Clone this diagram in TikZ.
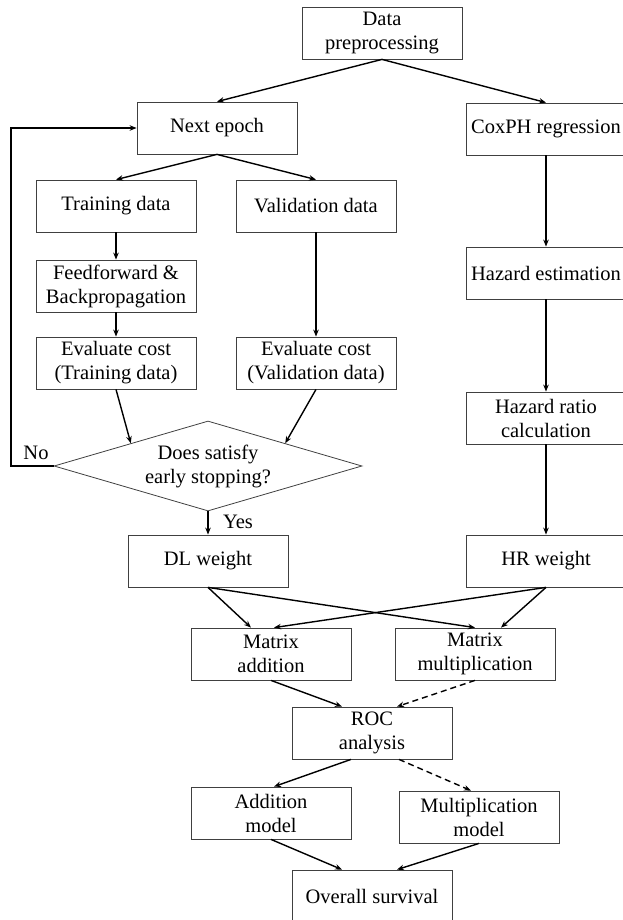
\documentclass[tikz,border=0pt]{standalone}
\usepackage{fontspec}
\setmainfont{Liberation Serif}
\usetikzlibrary{shapes.geometric,arrows.meta}

\begin{document}
\begin{tikzpicture}[
    x=1pt, y=-1pt,
    font=\fontsize{20.5}{24}\selectfont,
    box/.style={rectangle, draw=black!75, line width=0.8pt, minimum width=160pt, minimum height=52pt, align=center, inner sep=2pt},
    decision/.style={diamond, draw=black!75, line width=0.8pt, aspect=3.4, minimum width=308pt, minimum height=90pt, align=center, inner sep=0pt},
    arrow/.style={line width=1.4pt, -{Stealth[length=7pt,width=5.5pt]}},
    dasharrow/.style={arrow, dash pattern=on 6pt off 4pt}
]
    \useasboundingbox (0,0) rectangle (623,920);

    % Top and the two branches
    \node [box] (prep) at (382,33) {Data\\preprocessing};
    \node [box] (epoch) at (217,128) {Next epoch};
    \node [box] (cox) at (546,129) {CoxPH regression};

    % Deep learning branch
    \node [box] (train) at (116,206) {Training data};
    \node [box] (valid) at (316,206) {Validation data};
    \node [box] (feed) at (116,286) {Feedforward \&\\Backpropagation};
    \node [box] (costT) at (116,363) {Evaluate cost\\(Training data)};
    \node [box] (costV) at (316,363) {Evaluate cost\\(Validation data)};
    \node [decision] (stop) at (208,466) {Does satisfy\\early stopping?};
    \node [box] (dl) at (208,561) {DL weight};

    % Hazard ratio branch
    \node [box] (haz) at (546,273) {Hazard estimation};
    \node [box] (ratio) at (546,418) {Hazard ratio\\calculation};
    \node [box] (hr) at (546,561) {HR weight};

    % Combination and evaluation
    \node [box] (madd) at (271,654) {Matrix\\addition};
    \node [box] (mmul) at (475,654) {Matrix\\multiplication};
    \node [box] (roc) at (372,733) {ROC\\analysis};
    \node [box] (addm) at (271,813) {Addition\\model};
    \node [box] (mulm) at (479,817) {Multiplication\\model};
    \node [box] (os) at (372,896) {Overall survival};

    % Labels on the decision
    \node (no) at (36,453) {No};
    \node (yes) at (238,522) {Yes};
    \coordinate (loop) at (11,466);

    % Arrows
    \draw [arrow] (prep.south) -- (epoch.north);
    \draw [arrow] (prep.south) -- (cox.north);
    \draw [arrow] (epoch.south) -- (train.north);
    \draw [arrow] (epoch.south) -- (valid.north);
    \draw [arrow] (train) -- (feed);
    \draw [arrow] (feed) -- (costT);
    \draw [arrow] (valid) -- (costV);
    \draw [arrow] (costT.south) -- (stop.north west);
    \draw [arrow] (costV.south) -- (stop.north east);
    \draw [arrow] (stop.west) -- (loop) |- (epoch.west);
    \draw [arrow] (stop) -- (dl);
    \draw [arrow] (cox) -- (haz);
    \draw [arrow] (haz) -- (ratio);
    \draw [arrow] (ratio) -- (hr);

    % Weights to the two matrix operations
    \draw [arrow] (dl.south) -- ([xshift=-20pt]madd.north);
    \draw [arrow] (dl.south) -- (mmul.north);
    \draw [arrow] (hr.south) -- ([xshift=3pt]madd.north);
    \draw [arrow] (hr.south) -- ([xshift=26pt]mmul.north);

    \draw [arrow] (madd.south) -- ([xshift=-30pt]roc.north);
    \draw [dasharrow] (mmul.south) -- ([xshift=25pt]roc.north);
    \draw [arrow] ([xshift=-21pt]roc.south) -- ([xshift=3pt]addm.north);
    \draw [dasharrow] ([xshift=27pt]roc.south) -- ([xshift=-8pt]mulm.north);
    \draw [arrow] (addm.south) -- ([xshift=-30pt]os.north);
    \draw [arrow] (mulm.south) -- ([xshift=25pt]os.north);
\end{tikzpicture}
\end{document}
